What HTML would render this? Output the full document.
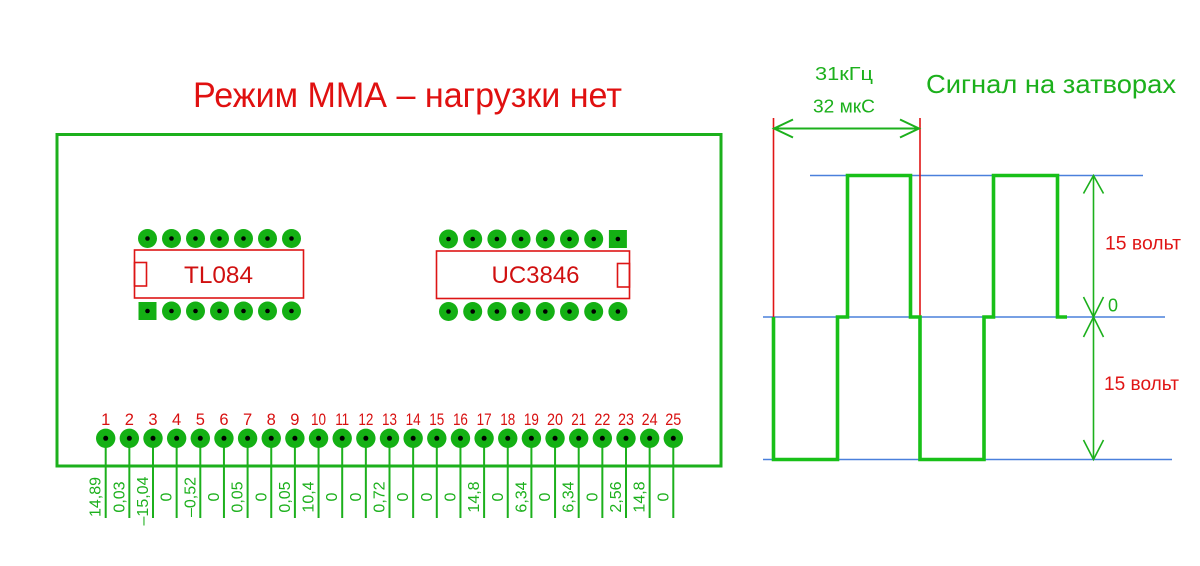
<!DOCTYPE html>
<html><head><meta charset="utf-8"><style>
html,body{margin:0;padding:0;background:#fff;}
svg{display:block;}
text{font-family:"Liberation Sans","DejaVu Sans",sans-serif;}
</style></head><body>
<svg width="1200" height="566" viewBox="0 0 1200 566" xmlns="http://www.w3.org/2000/svg">
<rect width="1200" height="566" fill="#fff"/>
<!-- Title -->
<text x="193" y="107" font-size="35" fill="#e01010" textLength="429" lengthAdjust="spacingAndGlyphs">Режим ММА – нагрузки нет</text>
<!-- Board -->
<rect x="57" y="134.5" width="664" height="331.5" fill="none" stroke="#1cb01c" stroke-width="3"/>

<!-- TL084 -->
<g fill="#14b014">
<circle cx="147.5" cy="238.5" r="9.5"/><circle cx="171.5" cy="238.5" r="9.5"/><circle cx="195.5" cy="238.5" r="9.5"/><circle cx="219.5" cy="238.5" r="9.5"/><circle cx="243.5" cy="238.5" r="9.5"/><circle cx="267.5" cy="238.5" r="9.5"/><circle cx="291.5" cy="238.5" r="9.5"/>
<rect x="138.5" y="302" width="18" height="18"/><circle cx="171.5" cy="311" r="9.5"/><circle cx="195.5" cy="311" r="9.5"/><circle cx="219.5" cy="311" r="9.5"/><circle cx="243.5" cy="311" r="9.5"/><circle cx="267.5" cy="311" r="9.5"/><circle cx="291.5" cy="311" r="9.5"/>
</g>
<g fill="#000">
<circle cx="147.5" cy="238.5" r="2.3"/><circle cx="171.5" cy="238.5" r="2.3"/><circle cx="195.5" cy="238.5" r="2.3"/><circle cx="219.5" cy="238.5" r="2.3"/><circle cx="243.5" cy="238.5" r="2.3"/><circle cx="267.5" cy="238.5" r="2.3"/><circle cx="291.5" cy="238.5" r="2.3"/>
<circle cx="147.5" cy="311" r="2.3"/><circle cx="171.5" cy="311" r="2.3"/><circle cx="195.5" cy="311" r="2.3"/><circle cx="219.5" cy="311" r="2.3"/><circle cx="243.5" cy="311" r="2.3"/><circle cx="267.5" cy="311" r="2.3"/><circle cx="291.5" cy="311" r="2.3"/>
</g>
<rect x="134.5" y="250" width="169" height="48" fill="none" stroke="#dd1515" stroke-width="1.6"/>
<rect x="134.5" y="262.5" width="12" height="23.5" fill="none" stroke="#dd1515" stroke-width="1.6"/>
<text x="184" y="283" font-size="24" fill="#d01010" textLength="69" lengthAdjust="spacingAndGlyphs">TL084</text>

<!-- UC3846 -->
<g fill="#14b014">
<circle cx="448.5" cy="239" r="9.5"/><circle cx="472.7" cy="239" r="9.5"/><circle cx="496.9" cy="239" r="9.5"/><circle cx="521.1" cy="239" r="9.5"/><circle cx="545.3" cy="239" r="9.5"/><circle cx="569.5" cy="239" r="9.5"/><circle cx="593.7" cy="239" r="9.5"/><rect x="608.9" y="230" width="18" height="18"/>
<circle cx="448.5" cy="311.5" r="9.5"/><circle cx="472.7" cy="311.5" r="9.5"/><circle cx="496.9" cy="311.5" r="9.5"/><circle cx="521.1" cy="311.5" r="9.5"/><circle cx="545.3" cy="311.5" r="9.5"/><circle cx="569.5" cy="311.5" r="9.5"/><circle cx="593.7" cy="311.5" r="9.5"/><circle cx="617.9" cy="311.5" r="9.5"/>
</g>
<g fill="#000">
<circle cx="448.5" cy="239" r="2.3"/><circle cx="472.7" cy="239" r="2.3"/><circle cx="496.9" cy="239" r="2.3"/><circle cx="521.1" cy="239" r="2.3"/><circle cx="545.3" cy="239" r="2.3"/><circle cx="569.5" cy="239" r="2.3"/><circle cx="593.7" cy="239" r="2.3"/><circle cx="617.9" cy="239" r="2.3"/>
<circle cx="448.5" cy="311.5" r="2.3"/><circle cx="472.7" cy="311.5" r="2.3"/><circle cx="496.9" cy="311.5" r="2.3"/><circle cx="521.1" cy="311.5" r="2.3"/><circle cx="545.3" cy="311.5" r="2.3"/><circle cx="569.5" cy="311.5" r="2.3"/><circle cx="593.7" cy="311.5" r="2.3"/><circle cx="617.9" cy="311.5" r="2.3"/>
</g>
<rect x="436.5" y="251" width="193" height="47.5" fill="none" stroke="#dd1515" stroke-width="1.6"/>
<rect x="617.5" y="263.5" width="12" height="23.5" fill="none" stroke="#dd1515" stroke-width="1.6"/>
<text x="491.5" y="283" font-size="24" fill="#d01010" textLength="88" lengthAdjust="spacingAndGlyphs">UC3846</text>

<!-- Connector pins -->
<g stroke="#1cb01c" stroke-width="2">
<line x1="105.7" y1="438" x2="105.7" y2="518"/><line x1="129.35" y1="438" x2="129.35" y2="518"/><line x1="153" y1="438" x2="153" y2="518"/><line x1="176.65" y1="438" x2="176.65" y2="518"/><line x1="200.3" y1="438" x2="200.3" y2="518"/><line x1="223.95" y1="438" x2="223.95" y2="518"/><line x1="247.6" y1="438" x2="247.6" y2="518"/><line x1="271.25" y1="438" x2="271.25" y2="518"/><line x1="294.9" y1="438" x2="294.9" y2="518"/><line x1="318.55" y1="438" x2="318.55" y2="518"/><line x1="342.2" y1="438" x2="342.2" y2="518"/><line x1="365.85" y1="438" x2="365.85" y2="518"/><line x1="389.5" y1="438" x2="389.5" y2="518"/><line x1="413.15" y1="438" x2="413.15" y2="518"/><line x1="436.8" y1="438" x2="436.8" y2="518"/><line x1="460.45" y1="438" x2="460.45" y2="518"/><line x1="484.1" y1="438" x2="484.1" y2="518"/><line x1="507.75" y1="438" x2="507.75" y2="518"/><line x1="531.4" y1="438" x2="531.4" y2="518"/><line x1="555.05" y1="438" x2="555.05" y2="518"/><line x1="578.7" y1="438" x2="578.7" y2="518"/><line x1="602.35" y1="438" x2="602.35" y2="518"/><line x1="626" y1="438" x2="626" y2="518"/><line x1="649.65" y1="438" x2="649.65" y2="518"/><line x1="673.3" y1="438" x2="673.3" y2="518"/>
</g>
<g fill="#14b014">
<circle cx="105.7" cy="438.3" r="9.7"/><circle cx="129.35" cy="438.3" r="9.7"/><circle cx="153" cy="438.3" r="9.7"/><circle cx="176.65" cy="438.3" r="9.7"/><circle cx="200.3" cy="438.3" r="9.7"/><circle cx="223.95" cy="438.3" r="9.7"/><circle cx="247.6" cy="438.3" r="9.7"/><circle cx="271.25" cy="438.3" r="9.7"/><circle cx="294.9" cy="438.3" r="9.7"/><circle cx="318.55" cy="438.3" r="9.7"/><circle cx="342.2" cy="438.3" r="9.7"/><circle cx="365.85" cy="438.3" r="9.7"/><circle cx="389.5" cy="438.3" r="9.7"/><circle cx="413.15" cy="438.3" r="9.7"/><circle cx="436.8" cy="438.3" r="9.7"/><circle cx="460.45" cy="438.3" r="9.7"/><circle cx="484.1" cy="438.3" r="9.7"/><circle cx="507.75" cy="438.3" r="9.7"/><circle cx="531.4" cy="438.3" r="9.7"/><circle cx="555.05" cy="438.3" r="9.7"/><circle cx="578.7" cy="438.3" r="9.7"/><circle cx="602.35" cy="438.3" r="9.7"/><circle cx="626" cy="438.3" r="9.7"/><circle cx="649.65" cy="438.3" r="9.7"/><circle cx="673.3" cy="438.3" r="9.7"/>
</g>
<g fill="#000">
<circle cx="105.7" cy="438.3" r="2.5"/><circle cx="129.35" cy="438.3" r="2.5"/><circle cx="153" cy="438.3" r="2.5"/><circle cx="176.65" cy="438.3" r="2.5"/><circle cx="200.3" cy="438.3" r="2.5"/><circle cx="223.95" cy="438.3" r="2.5"/><circle cx="247.6" cy="438.3" r="2.5"/><circle cx="271.25" cy="438.3" r="2.5"/><circle cx="294.9" cy="438.3" r="2.5"/><circle cx="318.55" cy="438.3" r="2.5"/><circle cx="342.2" cy="438.3" r="2.5"/><circle cx="365.85" cy="438.3" r="2.5"/><circle cx="389.5" cy="438.3" r="2.5"/><circle cx="413.15" cy="438.3" r="2.5"/><circle cx="436.8" cy="438.3" r="2.5"/><circle cx="460.45" cy="438.3" r="2.5"/><circle cx="484.1" cy="438.3" r="2.5"/><circle cx="507.75" cy="438.3" r="2.5"/><circle cx="531.4" cy="438.3" r="2.5"/><circle cx="555.05" cy="438.3" r="2.5"/><circle cx="578.7" cy="438.3" r="2.5"/><circle cx="602.35" cy="438.3" r="2.5"/><circle cx="626" cy="438.3" r="2.5"/><circle cx="649.65" cy="438.3" r="2.5"/><circle cx="673.3" cy="438.3" r="2.5"/>
</g>
<!-- pin numbers -->
<g fill="#d81010" font-size="16.5" text-anchor="middle">
<text x="105.7" y="425">1</text><text x="129.35" y="425">2</text><text x="153" y="425">3</text><text x="176.65" y="425">4</text><text x="200.3" y="425">5</text><text x="223.95" y="425">6</text><text x="247.6" y="425">7</text><text x="271.25" y="425">8</text><text x="294.9" y="425">9</text>
<text x="318.55" y="425" textLength="15" lengthAdjust="spacingAndGlyphs">10</text><text x="342.2" y="425" textLength="14" lengthAdjust="spacingAndGlyphs">11</text><text x="365.85" y="425" textLength="15" lengthAdjust="spacingAndGlyphs">12</text><text x="389.5" y="425" textLength="15" lengthAdjust="spacingAndGlyphs">13</text><text x="413.15" y="425" textLength="15" lengthAdjust="spacingAndGlyphs">14</text><text x="436.8" y="425" textLength="15" lengthAdjust="spacingAndGlyphs">15</text><text x="460.45" y="425" textLength="15" lengthAdjust="spacingAndGlyphs">16</text><text x="484.1" y="425" textLength="15" lengthAdjust="spacingAndGlyphs">17</text><text x="507.75" y="425" textLength="15" lengthAdjust="spacingAndGlyphs">18</text><text x="531.4" y="425" textLength="15" lengthAdjust="spacingAndGlyphs">19</text><text x="555.05" y="425" textLength="16" lengthAdjust="spacingAndGlyphs">20</text><text x="578.7" y="425" textLength="15" lengthAdjust="spacingAndGlyphs">21</text><text x="602.35" y="425" textLength="16" lengthAdjust="spacingAndGlyphs">22</text><text x="626" y="425" textLength="16" lengthAdjust="spacingAndGlyphs">23</text><text x="649.65" y="425" textLength="16" lengthAdjust="spacingAndGlyphs">24</text><text x="673.3" y="425" textLength="16" lengthAdjust="spacingAndGlyphs">25</text>
</g>
<!-- values -->
<g fill="#1cb01c" font-size="16" text-anchor="middle">
<text transform="translate(100.7,497) rotate(-90)">14,89</text>
<text transform="translate(124.35,497) rotate(-90)">0,03</text>
<text transform="translate(148,501) rotate(-90)">–15,04</text>
<text transform="translate(171.65,497) rotate(-90)">0</text>
<text transform="translate(195.3,497) rotate(-90)">–0,52</text>
<text transform="translate(218.95,497) rotate(-90)">0</text>
<text transform="translate(242.6,497) rotate(-90)">0,05</text>
<text transform="translate(266.25,497) rotate(-90)">0</text>
<text transform="translate(289.9,497) rotate(-90)">0,05</text>
<text transform="translate(313.55,497) rotate(-90)">10,4</text>
<text transform="translate(337.2,497) rotate(-90)">0</text>
<text transform="translate(360.85,497) rotate(-90)">0</text>
<text transform="translate(384.5,497) rotate(-90)">0,72</text>
<text transform="translate(408.15,497) rotate(-90)">0</text>
<text transform="translate(431.8,497) rotate(-90)">0</text>
<text transform="translate(455.45,497) rotate(-90)">0</text>
<text transform="translate(479.1,497) rotate(-90)">14,8</text>
<text transform="translate(502.75,497) rotate(-90)">0</text>
<text transform="translate(526.4,497) rotate(-90)">6,34</text>
<text transform="translate(550.05,497) rotate(-90)">0</text>
<text transform="translate(573.7,497) rotate(-90)">6,34</text>
<text transform="translate(597.35,497) rotate(-90)">0</text>
<text transform="translate(621,497) rotate(-90)">2,56</text>
<text transform="translate(644.65,497) rotate(-90)">14,8</text>
<text transform="translate(668.3,497) rotate(-90)">0</text>
</g>

<!-- Right diagram -->
<text x="926" y="93" font-size="26" fill="#1cb01c" textLength="250" lengthAdjust="spacingAndGlyphs">Сигнал на затворах</text>
<text x="815" y="80" font-size="18" fill="#1cb01c" textLength="58" lengthAdjust="spacingAndGlyphs">31кГц</text>
<text x="813" y="112.5" font-size="18" fill="#1cb01c" textLength="62" lengthAdjust="spacingAndGlyphs">32 мкС</text>
<!-- blue lines -->
<g stroke="#4a80dc" stroke-width="1.6">
<line x1="810" y1="175.5" x2="1143" y2="175.5"/>
<line x1="763" y1="317" x2="1165" y2="317"/>
<line x1="763" y1="459.5" x2="1172" y2="459.5"/>
</g>
<!-- red lines -->
<g stroke="#e01515" stroke-width="1.6">
<line x1="773.5" y1="118" x2="773.5" y2="317"/>
<line x1="920" y1="118" x2="920" y2="317"/>
</g>
<!-- period arrow -->
<g stroke="#1cb01c" stroke-width="2" fill="none">
<line x1="774" y1="128.5" x2="919" y2="128.5"/>
<polyline points="793,119.5 774,128.5 793,137.5"/>
<polyline points="900,119.5 919,128.5 900,137.5"/>
</g>
<!-- waveform -->
<polyline fill="none" stroke="#18c018" stroke-width="3.6" stroke-linejoin="miter"
 points="773.5,317 773.5,459.5 837.5,459.5 837.5,317 847.5,317 847.5,175.5 910.5,175.5 910.5,317 920,317 920,459.5 984,459.5 984,317 993.5,317 993.5,175.5 1057.5,175.5 1057.5,317 1067,317"/>
<!-- vertical dimension -->
<g stroke="#1cb01c" stroke-width="1.6" fill="none">
<line x1="1093.5" y1="175.5" x2="1093.5" y2="459.5"/>
<polyline points="1083.5,193.5 1093.5,175.5 1103.5,193.5"/>
<polyline points="1083.5,297 1093.5,317 1103.5,297"/>
<polyline points="1083.5,337 1093.5,317 1103.5,337"/>
<polyline points="1083.5,440 1093.5,459.5 1103.5,440"/>
</g>
<text x="1105" y="249.5" font-size="19" fill="#e01515" textLength="76" lengthAdjust="spacingAndGlyphs">15 вольт</text>
<text x="1104" y="390" font-size="19" fill="#e01515" textLength="75" lengthAdjust="spacingAndGlyphs">15 вольт</text>
<text x="1108" y="311.5" font-size="18" fill="#1cb01c">0</text>
</svg>
</body></html>
